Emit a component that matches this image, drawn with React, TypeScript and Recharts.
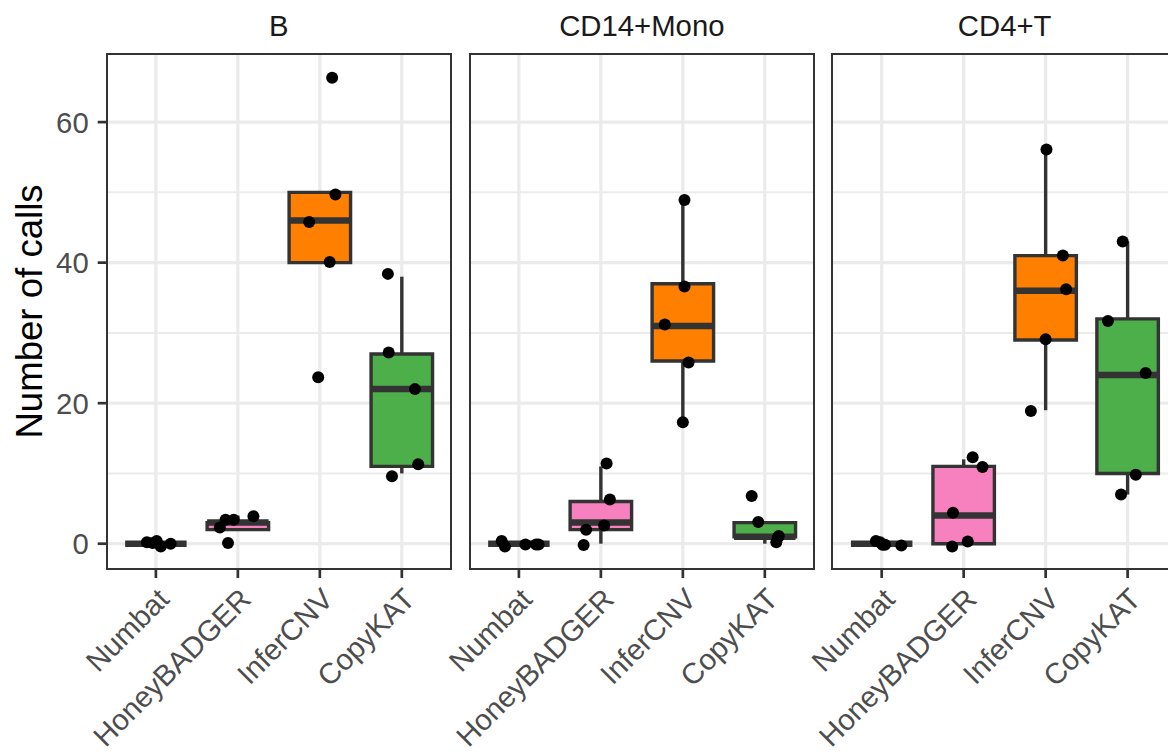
import {
  ComposedChart,
  Scatter,
  XAxis,
  YAxis,
  CartesianGrid,
  ReferenceArea,
  ReferenceLine,
} from 'recharts';

const METHODS = ['Numbat', 'HoneyBADGER', 'InferCNV', 'CopyKAT'];
const METHOD_FILLS = ['#377EB8', '#F781BF', '#FF7F00', '#4DAF4A'];
const CELL_TYPES = ['B', 'CD14+Mono', 'CD4+T'];
const Y_TICKS = [0, 20, 40, 60];
const Y_MINOR = [10, 30, 50];
const X_TICKS = [1, 2, 3, 4];

// calls per sample, one row per method (same order as METHODS)
const B_CALLS = [
  [0, 0, 0, 0, 0],
  [2, 3, 3, 4, 0],
  [66, 50, 46, 40, 24],
  [38, 27, 22, 11, 10],
];
const MONO_CALLS = [
  [0, 0, 0, 0, 0],
  [11, 6, 3, 2, 0],
  [49, 37, 31, 26, 17],
  [7, 3, 1, 1, 0],
];
const CD4T_CALLS = [
  [0, 0, 0, 0, 0],
  [12, 11, 4, 0, 0],
  [56, 41, 36, 29, 19],
  [43, 32, 24, 10, 7],
];

// jitter of each plotted point: x in category units, y in calls
const B_JITTER_X = [
  [-0.11, 0.01, 0.06, 0.18, -0.04],
  [-0.22, -0.15, -0.05, 0.19, -0.12],
  [0.15, 0.19, -0.13, 0.12, -0.02],
  [-0.17, -0.16, 0.16, 0.2, -0.12],
];
const B_JITTER_Y = [
  [0.2, 0.4, -0.4, 0, 0.1],
  [0.3, 0.4, 0.4, -0.1, 0.1],
  [0.3, -0.3, -0.2, 0.1, -0.3],
  [0.4, 0.2, 0, 0.3, -0.4],
];
const MONO_JITTER_X = [
  [-0.21, -0.17, 0.08, 0.21, 0.24],
  [0.07, 0.11, 0.04, -0.18, -0.21],
  [0.02, 0.02, -0.22, 0.07, 0],
  [-0.16, -0.08, 0.17, 0.16, 0.14],
];
const MONO_JITTER_Y = [
  [0.4, -0.4, -0.1, -0.1, -0.1],
  [0.4, 0.3, -0.4, 0, -0.2],
  [-0.1, -0.4, 0.2, -0.2, 0.3],
  [-0.2, 0.1, 0.1, -0.1, 0.2],
];
const CD4T_JITTER_X = [
  [-0.07, 0.01, 0.04, 0.24, -0.02],
  [0.11, 0.23, -0.13, 0.05, -0.14],
  [0.01, 0.21, 0.25, 0, -0.18],
  [-0.06, -0.24, 0.22, 0.1, -0.08],
];
const CD4T_JITTER_Y = [
  [0.4, -0.15, -0.15, -0.25, 0.2],
  [0.3, -0.1, 0.4, 0.3, -0.4],
  [0.1, 0, 0.2, 0.1, -0.1],
  [0, -0.3, 0.3, -0.2, 0],
];

const PANELS = [
  { title: CELL_TYPES[0], calls: B_CALLS, jx: B_JITTER_X, jy: B_JITTER_Y },
  { title: CELL_TYPES[1], calls: MONO_CALLS, jx: MONO_JITTER_X, jy: MONO_JITTER_Y },
  { title: CELL_TYPES[2], calls: CD4T_CALLS, jx: CD4T_JITTER_X, jy: CD4T_JITTER_Y },
];

const FONT = '"Liberation Sans", Arial, Helvetica, sans-serif';
const DARK = '#333333';
const GRID = '#EBEBEB';

const CHART_W = 1180;
const CHART_H = 753;
const PLOT_TOP = 54.3;
const PLOT_BOTTOM = 569;
const PLOT_W = 344.3;
const PANEL_LEFT = [106.7, 469.7, 832.5];
const Y_DOMAIN: [number, number] = [-3.6, 69.65];
const X_DOMAIN: [number, number] = [0.4, 4.6];
const BOX_WIDTH = 0.75; // in category units
const BOX_PX = (BOX_WIDTH * PLOT_W) / (X_DOMAIN[1] - X_DOMAIN[0]);
const LINE_W = 3.4;

// type 7 quantile on a sorted array
function quantile(sorted: number[], p: number) {
  const h = (sorted.length - 1) * p;
  const lo = Math.floor(h);
  const hi = Math.ceil(h);
  return sorted[lo] + (h - lo) * (sorted[hi] - sorted[lo]);
}

function summarize(values: number[]) {
  const s = [...values].sort((a, b) => a - b);
  const q1 = quantile(s, 0.25);
  const median = quantile(s, 0.5);
  const q3 = quantile(s, 0.75);
  const iqr = q3 - q1;
  const lower = Math.min(...s.filter((v) => v >= q1 - 1.5 * iqr));
  const upper = Math.max(...s.filter((v) => v <= q3 + 1.5 * iqr));
  return { q1, median, q3, lower, upper };
}

const MethodTick = (props: any) => {
  const { x, y, payload } = props;
  return (
    <text
      x={x}
      y={y}
      dy="0.72em"
      textAnchor="end"
      transform={`rotate(-45, ${x}, ${y})`}
      fill="#4D4D4D"
      fontSize={29.3}
      fontFamily={FONT}
    >
      {METHODS[payload.value - 1]}
    </text>
  );
};

const MedianShape = (props: any) => {
  const { cx, cy } = props;
  return (
    <line
      x1={cx - BOX_PX / 2}
      x2={cx + BOX_PX / 2}
      y1={cy}
      y2={cy}
      stroke={DARK}
      strokeWidth={6.5}
    />
  );
};

const PointShape = (props: any) => <circle cx={props.cx} cy={props.cy} r={6} fill="#000" />;

function Panel({ index }: { index: number }) {
  const { calls, jx, jy } = PANELS[index];
  const left = PANEL_LEFT[index];
  const showY = index === 0;
  const stats = calls.map(summarize);

  const medianRows = stats.map((s, i) => ({ x: i + 1, y: s.median }));
  const pointRows = calls.flatMap((row, i) =>
    row.map((v, j) => ({ x: i + 1 + jx[i][j], y: v + jy[i][j] }))
  );
  const whiskers = stats
    .flatMap((s, i) => [
      { x: i + 1, from: s.lower, to: s.q1 },
      { x: i + 1, from: s.q3, to: s.upper },
    ])
    .filter((w) => w.to > w.from);

  return (
    <div style={{ position: 'absolute', left: 0, top: 0 }}>
      <ComposedChart
        width={CHART_W}
        height={CHART_H}
        data={pointRows}
        margin={{
          top: PLOT_TOP,
          bottom: 0,
          left: showY ? 0 : left,
          right: CHART_W - left - PLOT_W,
        }}
      >
        <CartesianGrid
          stroke={GRID}
          strokeWidth={2}
          vertical={false}
          horizontalValues={Y_MINOR}
        />
        <CartesianGrid
          stroke={GRID}
          strokeWidth={3.2}
          horizontalValues={Y_TICKS}
          verticalValues={X_TICKS}
        />
        <XAxis
          type="number"
          dataKey="x"
          domain={X_DOMAIN}
          allowDataOverflow
          ticks={X_TICKS}
          interval={0}
          height={CHART_H - PLOT_BOTTOM}
          axisLine={false}
          tickSize={9}
          tickMargin={8}
          tickLine={{ stroke: DARK, strokeWidth: 2.7 }}
          tick={<MethodTick />}
        />
        <YAxis
          type="number"
          domain={Y_DOMAIN}
          allowDataOverflow
          ticks={Y_TICKS}
          interval={0}
          hide={!showY}
          width={left}
          axisLine={false}
          tickSize={9}
          tickMargin={9}
          tickLine={{ stroke: DARK, strokeWidth: 2.7 }}
          tick={{ fill: '#4D4D4D', fontSize: 29.3, fontFamily: FONT }}
        />
        {whiskers.map((w, i) => (
          <ReferenceLine
            key={`whisker-${i}`}
            segment={[
              { x: w.x, y: w.from },
              { x: w.x, y: w.to },
            ]}
            stroke={DARK}
            strokeWidth={LINE_W}
          />
        ))}
        {stats.map((s, i) => (
          <ReferenceArea
            key={`box-${i}`}
            x1={i + 1 - BOX_WIDTH / 2}
            x2={i + 1 + BOX_WIDTH / 2}
            y1={s.q1}
            y2={s.q3}
            fill={METHOD_FILLS[i]}
            fillOpacity={1}
            stroke={DARK}
            strokeWidth={LINE_W}
          />
        ))}
        <Scatter
          data={medianRows}
          dataKey="y"
          shape={<MedianShape />}
          isAnimationActive={false}
        />
        <Scatter
          data={pointRows}
          dataKey="y"
          shape={<PointShape />}
          isAnimationActive={false}
        />
      </ComposedChart>
      <div
        style={{
          position: 'absolute',
          left: left - 1.2,
          top: PLOT_TOP - 1.2,
          width: PLOT_W + 2.4,
          height: PLOT_BOTTOM - PLOT_TOP + 2.4,
          border: `2.4px solid ${DARK}`,
          boxSizing: 'border-box',
          pointerEvents: 'none',
        }}
      />
    </div>
  );
}

export default function App() {
  return (
    <div
      style={{
        position: 'absolute',
        left: 0,
        top: 0,
        width: 1168,
        height: 753,
        overflow: 'hidden',
        background: '#fff',
      }}
    >
      {PANELS.map((_, i) => (
        <Panel key={i} index={i} />
      ))}
      <svg
        width={1168}
        height={753}
        style={{ position: 'absolute', left: 0, top: 0, pointerEvents: 'none' }}
      >
        {PANELS.map((p, i) => (
          <text
            key={p.title}
            x={PANEL_LEFT[i] + PLOT_W / 2}
            y={36.3}
            textAnchor="middle"
            fill="#1A1A1A"
            fontSize={29.3}
            fontFamily={FONT}
          >
            {p.title}
          </text>
        ))}
        <text
          transform="rotate(-90)"
          x={-311.5}
          y={41.5}
          textAnchor="middle"
          fill="#000"
          fontSize={36.6}
          fontFamily={FONT}
        >
          Number of calls
        </text>
      </svg>
    </div>
  );
}
